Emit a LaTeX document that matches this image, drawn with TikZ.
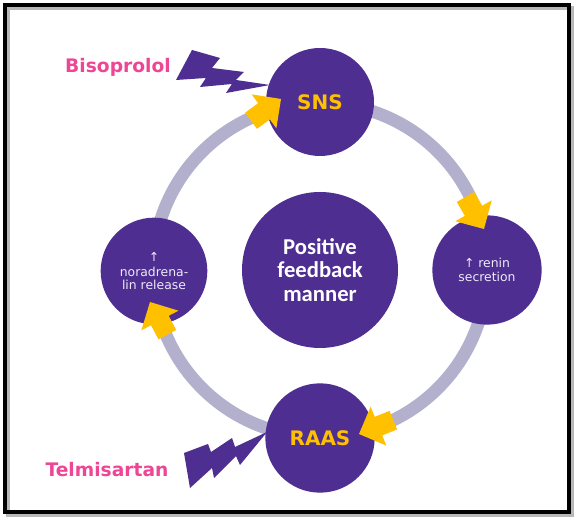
\documentclass[tikz,border=0pt]{standalone}
\usepackage{fontspec}
\setmainfont{DejaVu Sans}
\newfontfamily\calibfont{Carlito}
\definecolor{pur}{HTML}{4E2E91}
\definecolor{ringc}{HTML}{B3B0CD}
\definecolor{yel}{HTML}{FFC000}
\definecolor{pinkc}{HTML}{EE4595}
\definecolor{lav}{HTML}{EEEAF7}
\newcommand\yelarrow[2]{%
  \fill[yel, shift={#1}, rotate=#2] (0,0) -- (-21,21) -- (-21,10) -- (-37,10) -- (-37,-10) -- (-21,-10) -- (-21,-21) -- cycle;}
\tikzset{
  disc/.style={circle, fill=pur, inner sep=0pt, align=center},
  small/.style={disc, text=lav, font=\fontsize{9.3}{10}\selectfont},
  big/.style={disc, text=yel, font=\bfseries\fontsize{15}{18}\selectfont},
  drug/.style={text=pinkc, font=\bfseries\fontsize{14}{16}\selectfont, inner sep=0pt}
}
\begin{document}
\begin{tikzpicture}[x=0.75pt,y=0.75pt]
\useasboundingbox (0,0) rectangle (580,523);
\fill[white] (0,0) rectangle (580,523);
% frame with shadow
\draw[black!28, line width=3pt] (8,515) rectangle (572,8);
\draw[black, line width=3pt] (5,518) rectangle (569,11);
% ring
\draw[ringc, line width=9.5pt] (320,253) circle[radius=167];
% circles
\node[big, minimum size=81pt] (sns) at (320,421) {SNS};
\node[big, minimum size=82pt] (raas) at (320,85) {RAAS};
\node[small, minimum size=82pt] (renin) at (487,253) {↑ renin\\secretion};
\node[small, minimum size=80pt] (nor) at (154,252) {↑\\[1pt]noradrena-\\lin release};
\node[disc, minimum size=117pt, text=white, font=\calibfont\bfseries\fontsize{17}{17.5}\selectfont] (center) at (320,253) {Positive\\feedback\\manner};
% yellow arrows
\yelarrow{(281,424)}{36}
\yelarrow{(484,294)}{-60}
\yelarrow{(359,89)}{202}
\yelarrow{(150,221)}{118}
% lightning bolts
\fill[pur] (192,473) -- (220,465) -- (212,455) -- (244,451) -- (236,443) -- (270,438)
  -- (226,430) -- (232,439) -- (200,436) -- (206,445) -- (176,443) -- cycle;
\fill[pur] (184,70) -- (208,79) -- (211,71) -- (232,85) -- (235,76) -- (267,91)
  -- (240,58) -- (236,67) -- (214,45) -- (212,55) -- (190,35) -- cycle;
% drug labels
\node[drug] (biso) at (118,456) {Bisoprolol};
\node[drug] (telmi) at (107,53) {Telmisartan};
\end{tikzpicture}
\end{document}
